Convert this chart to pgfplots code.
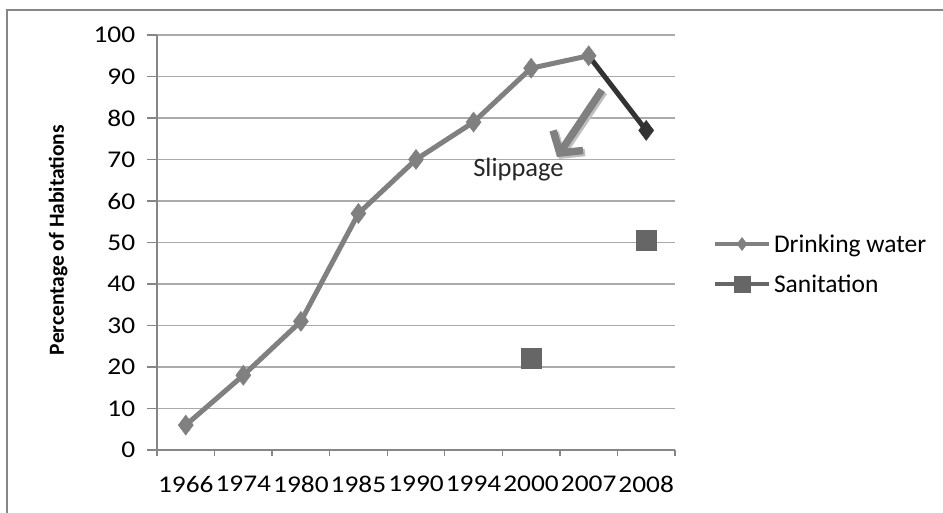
\documentclass[border=0pt]{standalone}
\usepackage{pgfplots}
\pgfplotsset{compat=1.18}
\usepackage{fontspec}
\setmainfont{Carlito}
\usetikzlibrary{arrows.meta}

\definecolor{dw}{RGB}{128,128,128}
\definecolor{dwdark}{RGB}{51,51,51}
\definecolor{san}{RGB}{102,102,102}
\definecolor{gridc}{RGB}{170,170,170}
\definecolor{axc}{RGB}{134,134,134}
\newcommand{\wide}[1]{\scalebox{1.14}[1]{#1}}

\begin{document}
\begin{tikzpicture}
\useasboundingbox (0,0) rectangle (943pt,513pt);
\fill[white] (0,0) rectangle (943pt,513pt);
\draw[axc, line width=2pt] (7pt,0) -- (7pt,503pt) -- (943pt,503pt);
\begin{axis}[
  at={(157pt,63pt)}, anchor=south west,
  scale only axis, width=518pt, height=415pt,
  xmin=-0.5, xmax=8.5, ymin=0, ymax=100,
  clip=false,
  axis x line*=bottom, axis y line*=left,
  axis line style={axc, line width=1.3pt, -},
  xtick={-0.5,0.5,1.5,2.5,3.5,4.5,5.5,6.5,7.5,8.5},
  x tick label as interval,
  xticklabels={\wide{1966},\wide{1974},\wide{1980},\wide{1985},\wide{1990},\wide{1994},\wide{2000},\wide{2007},\wide{2008}},
  ytick={0,10,...,100},
  yticklabel={\wide{\pgfmathprintnumber{\tick}}},
  tick align=outside,
  xtick style={axc, line width=1.3pt, /pgfplots/major tick length=6pt},
  ytick style={axc, line width=1.3pt, /pgfplots/major tick length=10pt},
  ymajorgrids,
  grid style={gridc, line width=1.3pt},
  /pgf/number format/assume math mode=true,
  ticklabel style={font=\fontsize{24}{28}\selectfont, text=black},
  yticklabel style={xshift=-14pt},
  xticklabel style={yshift=-18pt},
  ylabel={Percentage of Habitations},
  every axis y label/.style={at={(axis description cs:-0.191,0.506)}, rotate=90, anchor=center,
    font=\bfseries\fontsize{21.5}{25}\selectfont},
  legend style={draw=none, fill=none, at={(axis description cs:1.073,0.448)}, anchor=west,
    font=\fontsize{25.5}{30}\selectfont, row sep=17pt, inner sep=0pt,
    nodes={inner xsep=3pt}},
  legend cell align=left,
  legend image code/.code={\draw[mark repeat=2,mark phase=2,#1] plot coordinates {(0pt,0pt) (27pt,0pt) (54pt,0pt)};},
]
\addplot[dwdark, line width=5pt, mark=diamond*, mark size=10pt, mark indices={2},
  mark options={fill=dwdark, draw=dwdark, line width=0.5pt}, forget plot]
  coordinates {(7,95) (8,77)};
\addplot[dw, line width=5pt, mark=diamond*, mark size=10pt,
  mark options={fill=dw, draw=dw, line width=0.5pt},
  legend image post style={line width=4pt, mark size=6.5pt}]
  coordinates {(0,6) (1,18) (2,31) (3,57) (4,70) (5,79) (6,92) (7,95)};
\addlegendentry{Drinking water}
\addplot[san, line width=5pt, mark=square*, mark size=10pt, unbounded coords=jump,
  mark options={fill=san, draw=san, line width=0.5pt},
  legend image post style={line width=4pt, mark size=8pt}]
  coordinates {(6,22) (7,nan) (8,50.5)};
\addlegendentry{Sanitation}
\draw[black!25, line width=7.5pt, -{Straight Barb[length=15pt, width=36pt]}]
  ([xshift=2pt,yshift=-2pt]axis cs:7.23,86.75) -- ([xshift=2pt,yshift=-2pt]axis cs:6.45,70.6);
\draw[dw, line width=7.5pt, -{Straight Barb[length=15pt, width=36pt]}]
  (axis cs:7.23,86.75) -- (axis cs:6.45,70.6);
\node[font=\fontsize{26.5}{30}\selectfont, text=black!85, anchor=base] at (axis cs:5.78,65.8) {Slippage};
\end{axis}
\end{tikzpicture}
\end{document}
